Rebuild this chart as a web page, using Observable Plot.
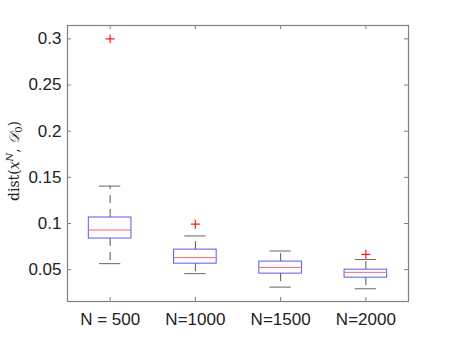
<!DOCTYPE html>
<html>
<head>
<meta charset="utf-8">
<script src="https://cdn.jsdelivr.net/npm/d3@7"></script>
<script src="https://cdn.jsdelivr.net/npm/@observablehq/plot@0.6"></script>
<style>
  html, body { margin: 0; padding: 0; background: #fff; }
  svg { display: block; }
</style>
</head>
<body>
<div id="chart"></div>
<script>
// Data
const categories = ["N = 500", "N=1000", "N=1500", "N=2000"];
const positions = [1, 2, 3, 4];
const whiskerLow = [0.0565, 0.0457, 0.0311, 0.0293];
const q1 = [0.0837, 0.0565, 0.0457, 0.0413];
const median = [0.0930, 0.0630, 0.0525, 0.0471];
const q3 = [0.1065, 0.0717, 0.0587, 0.0500];
const whiskerHigh = [0.1405, 0.0865, 0.0702, 0.0609];
const outlierGroup = [1, 2, 4];
const outlierValue = [0.300, 0.0993, 0.0666];
const yTicks = [0.05, 0.1, 0.15, 0.2, 0.25, 0.3];

const boxes = positions.map((p, i) => ({
  pos: p, lo: whiskerLow[i], q1: q1[i], med: median[i], q3: q3[i], hi: whiskerHigh[i]
}));
const outliers = outlierGroup.map((g, i) => ({pos: g, value: outlierValue[i]}));

const W = 451, H = 338;
const mL = 67, mR = 43, mT = 25, mB = 37;
const fw = W - mL - mR, fh = H - mT - mB;
const tickLen = 4;
const axisColor = "#808080";
const halfBox = 0.25, halfCap = 0.125;

const chart = Plot.plot({
  width: W,
  height: H,
  marginLeft: mL,
  marginRight: mR,
  marginTop: mT,
  marginBottom: mB,
  style: {fontFamily: "'Liberation Sans', Arial, Helvetica, sans-serif", fontSize: "17px", color: "#222", background: "#fff"},
  x: {type: "linear", domain: [0.5, 4.5]},
  y: {type: "linear", domain: [0.0155, 0.3145]},
  marks: [
    // inward ticks
    Plot.ruleY(yTicks, {y: d => d, stroke: axisColor, insetRight: fw - tickLen}),
    Plot.ruleY(yTicks, {y: d => d, stroke: axisColor, insetLeft: fw - tickLen}),
    Plot.ruleX(positions, {x: d => d, stroke: axisColor, insetTop: fh - tickLen}),
    Plot.ruleX(positions, {x: d => d, stroke: axisColor, insetBottom: fh - tickLen}),
    Plot.frame({stroke: axisColor, strokeWidth: 1.2}),
    Plot.axisY(yTicks, {anchor: "left", tickSize: 0, tickPadding: 6, fontSize: 17, tickFormat: d => String(+d.toFixed(2)), label: null}),
    Plot.axisX(positions, {anchor: "bottom", tickSize: 0, tickPadding: 11, fontSize: 17, tickFormat: d => categories[d - 1], label: null}),
    // whiskers
    Plot.ruleX(boxes, {x: "pos", y1: "q3", y2: "hi", stroke: "#444", strokeWidth: 0.9, strokeDasharray: "8,6"}),
    Plot.ruleX(boxes, {x: "pos", y1: "q1", y2: "lo", stroke: "#444", strokeWidth: 0.9, strokeDasharray: "8,6"}),
    Plot.ruleY(boxes, {y: "hi", x1: d => d.pos - halfCap, x2: d => d.pos + halfCap, stroke: "#555", strokeWidth: 0.9}),
    Plot.ruleY(boxes, {y: "lo", x1: d => d.pos - halfCap, x2: d => d.pos + halfCap, stroke: "#555", strokeWidth: 0.9}),
    // boxes
    Plot.rect(boxes, {x1: d => d.pos - halfBox, x2: d => d.pos + halfBox, y1: "q1", y2: "q3", fill: "none", stroke: "#5a5ae8", strokeWidth: 1}),
    Plot.ruleY(boxes, {y: "med", x1: d => d.pos - halfBox, x2: d => d.pos + halfBox, stroke: "#ee6a6a", strokeWidth: 1}),
    // outliers
    Plot.dot(outliers, {x: "pos", y: "value", symbol: "plus", r: 3, stroke: "#ff1a1a", strokeWidth: 1.2})
  ]
});

document.getElementById("chart").appendChild(chart);

// y axis label (LaTeX style)
const svg = d3.select(chart);
const lbl = svg.append("text")
  .attr("transform", `translate(19, ${mT + fh / 2 - 2}) rotate(-90)`)
  .attr("text-anchor", "middle")
  .attr("font-family", "'DejaVu Serif', 'Liberation Serif', serif")
  .attr("font-size", 14)
  .attr("fill", "#222");
lbl.append("tspan").text("dist(");
lbl.append("tspan").attr("font-style", "italic").text("x");
lbl.append("tspan").attr("font-size", 10).attr("font-style", "italic").attr("dy", -6).text("N");
lbl.append("tspan").attr("dy", 6).text(", ");
lbl.append("tspan").attr("font-style", "italic").text("𝒟");
lbl.append("tspan").attr("font-size", 10).attr("dy", 3).text("0");
lbl.append("tspan").attr("dy", -3).text(")");
</script>
</body>
</html>
